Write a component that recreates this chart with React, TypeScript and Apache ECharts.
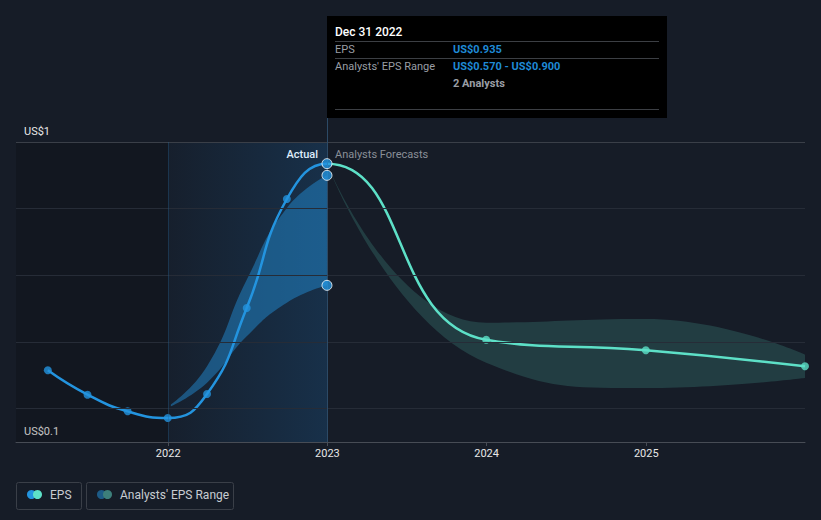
import React, { useEffect, useRef } from 'react';
import * as echarts from 'echarts';

// ---- data ----
const actualDates = ['2021-03-31', '2021-06-30', '2021-09-30', '2021-12-31', '2022-03-31', '2022-06-30', '2022-09-30', '2022-12-31'];
const actualEps = [0.315, 0.242, 0.192, 0.172, 0.244, 0.502, 0.829, 0.935];
const forecastDates = ['2023-12-31', '2024-12-31', '2025-12-31'];
const forecastEps = [0.407, 0.375, 0.327];
const pastRangeDates = ['2022-01-07', '2022-03-31', '2022-06-30', '2022-09-30', '2022-12-31'];
const pastRangeLow = [0.207, 0.278, 0.417, 0.518, 0.57];
const pastRangeHigh = [0.212, 0.327, 0.587, 0.802, 0.9];
const forecastRangeDates = ['2022-12-31', '2023-12-31', '2024-12-31', '2025-12-31'];
const forecastRangeLow = [0.935, 0.338, 0.262, 0.292];
const forecastRangeHigh = [0.935, 0.458, 0.469, 0.362];
const yTickLabels = ['US$0.1', 'US$1'];
const gridValues = [0.2, 0.4, 0.6, 0.8, 1.0];
const xRange = ['2021-01-17', '2025-12-31'];
const pastStart = '2022-01-01';
const lastActual = '2022-12-31';

const tooltipTitle = 'Dec 31 2022';
const tooltipRows = [
  { label: 'EPS', value: 'US$0.935' },
  { label: "Analysts' EPS Range", value: 'US$0.570 - US$0.900' },
];
const tooltipAnalysts = '2 Analysts';

const t = (s: string) => Date.UTC(+s.slice(0, 4), +s.slice(5, 7) - 1, +s.slice(8, 10));

const BLUE = '#2394df';
const TEAL = '#5de0c7';
const BG = '#161c27';
const FONT = 'Roboto, "Noto Sans", sans-serif';
const DAY = 86400000;

export default function App() {
  const ref = useRef<HTMLDivElement>(null);
  useEffect(() => {
    if (!ref.current) return;
    const chart = echarts.init(ref.current, undefined, { renderer: 'svg' });

    const epsData = [
      ...actualDates.map((d, i) => [t(d), actualEps[i]]),
      ...forecastDates.map((d, i) => [t(d), forecastEps[i]]),
    ];
    const xs = epsData.map((p) => p[0]);
    const x0 = Math.min(...xs);
    const x1 = Math.max(...xs);
    const split = (t(lastActual) - x0) / (x1 - x0);
    const epsColor = new echarts.graphic.LinearGradient(0, 0, 1, 0, [
      { offset: 0, color: BLUE },
      { offset: split, color: BLUE },
      { offset: split, color: TEAL },
      { offset: 1, color: TEAL },
    ]);

    const pastLow = pastRangeDates.map((d, i) => [t(d), pastRangeLow[i]]);
    const pastDiff = pastRangeDates.map((d, i) => [t(d), +(pastRangeHigh[i] - pastRangeLow[i]).toFixed(4)]);
    const fcLow = forecastRangeDates.map((d, i) => [t(d), forecastRangeLow[i]]);
    const fcDiff = forecastRangeDates.map((d, i) => [t(d), +(forecastRangeHigh[i] - forecastRangeLow[i]).toFixed(4)]);
    const n = actualDates.length;
    const smallActual = actualDates.slice(0, n - 1).map((d, i) => [t(d), actualEps[i]]);
    const lastIdx = pastRangeDates.length - 1;
    const highlighted = [
      [t(actualDates[n - 1]), actualEps[n - 1]],
      [t(pastRangeDates[lastIdx]), pastRangeHigh[lastIdx]],
      [t(pastRangeDates[lastIdx]), pastRangeLow[lastIdx]],
    ];
    const fcPoints = forecastDates.map((d, i) => [t(d), forecastEps[i]]);

    const txt = (text: string, x: number, y: number, fill: string, size: number, weight: any = 'normal', align = 'left') => ({
      type: 'text',
      x,
      y,
      silent: true,
      style: {
        text, fill, fontSize: size, fontWeight: weight, fontFamily: FONT,
        textAlign: align, align, textVerticalAlign: 'middle', verticalAlign: 'middle',
      },
    });
    const hline = (xa: number, xb: number, y: number, color: string) => ({
      type: 'line', silent: true,
      shape: { x1: xa, y1: y, x2: xb, y2: y },
      style: { stroke: color, lineWidth: 1 },
    });

    const graphic: any[] = [
      { type: 'line', silent: true, shape: { x1: 327.5, y1: 118, x2: 327.5, y2: 142 }, style: { stroke: '#2c4a66', lineWidth: 1 } },
      { type: 'rect', silent: true, shape: { x: 327, y: 16, width: 340, height: 102 }, style: { fill: '#000000' } },
      txt(tooltipTitle, 335, 31.5, '#ffffff', 12, 500),
      hline(335, 659, 41.5, '#3c3f44'),
      txt(tooltipRows[0].label, 335, 49.5, '#9a9ea5', 11),
      txt(tooltipRows[0].value, 453, 49.5, '#1f8ad6', 11, 'bold'),
      hline(335, 659, 58.5, '#3c3f44'),
      txt(tooltipRows[1].label, 335, 66.5, '#9a9ea5', 11),
      txt(tooltipRows[1].value, 453, 66.5, '#1f8ad6', 11, 'bold'),
      txt(tooltipAnalysts, 453, 83, '#9a9ea5', 11, 'bold'),
      hline(335, 659, 109.5, '#3c3f44'),
      txt('Actual', 318, 154.5, '#ffffff', 11, 500, 'right'),
      txt('Analysts Forecasts', 335, 154.5, '#8a8f98', 11, 'normal', 'left'),
      { type: 'rect', silent: true, shape: { x: 16.5, y: 482.5, width: 65, height: 27, r: 2 }, style: { fill: 'transparent', stroke: '#3a3f48', lineWidth: 1 } },
      { type: 'circle', silent: true, shape: { cx: 31.5, cy: 494.5, r: 4.5 }, style: { fill: BLUE } },
      { type: 'circle', silent: true, shape: { cx: 37.5, cy: 494.5, r: 4.5 }, style: { fill: TEAL } },
      txt('EPS', 50, 494.5, '#c8ccd2', 12),
      { type: 'rect', silent: true, shape: { x: 86.5, y: 482.5, width: 147, height: 27, r: 2 }, style: { fill: 'transparent', stroke: '#3a3f48', lineWidth: 1 } },
      { type: 'circle', silent: true, shape: { cx: 101.5, cy: 494.5, r: 4.5 }, style: { fill: '#1d5b87' } },
      { type: 'circle', silent: true, shape: { cx: 107.5, cy: 494.5, r: 4.5 }, style: { fill: '#3d7f7b' } },
      txt("Analysts' EPS Range", 120, 494.5, '#c8ccd2', 12),
    ];

    const option: any = {
      animation: false,
      backgroundColor: BG,
      textStyle: { fontFamily: FONT },
      grid: { left: 16, right: 16, top: 142, bottom: 78, containLabel: false },
      xAxis: {
        type: 'time',
        min: t(xRange[0]),
        max: t(xRange[1]),
        splitNumber: 4,
        minInterval: 365 * DAY,
        maxInterval: 366 * DAY,
        axisLine: { lineStyle: { color: '#474c55', width: 1 } },
        axisTick: { show: true, length: 4, lineStyle: { color: '#474c55' } },
        axisLabel: {
          showMinLabel: false,
          showMaxLabel: false,
          formatter: (v: number) => {
            const d = new Date(v);
            return d.getUTCMonth() === 0 && d.getUTCDate() === 1 ? String(d.getUTCFullYear()) : '';
          },
          color: '#e8e8e8', fontSize: 11, margin: 6, fontFamily: FONT,
        },
        splitLine: { show: false },
      },
      yAxis: {
        type: 'value',
        min: 0.1,
        max: 1,
        interval: 0.9,
        axisLine: { show: false },
        axisTick: { show: false },
        splitLine: { show: false },
        axisLabel: {
          inside: true,
          formatter: (v: number) => (Math.abs(v - 1) < 1e-6 ? yTickLabels[1] : yTickLabels[0]),
          color: '#e8e8e8', fontSize: 11, verticalAlign: 'bottom', margin: 8, padding: [0, 0, 5, 0], fontFamily: FONT,
        },
      },
      graphic,
      series: [
        {
          name: 'pastLow', type: 'line', stack: 'past', smooth: true, symbol: 'none', silent: true,
          lineStyle: { opacity: 0 }, data: pastLow,
          markArea: {
            silent: true,
            data: [
              [{ xAxis: t(xRange[0]), itemStyle: { color: 'rgba(0,0,0,0.16)' } }, { xAxis: t(pastStart) }],
              [
                {
                  xAxis: t(pastStart),
                  itemStyle: {
                    color: new echarts.graphic.LinearGradient(0, 0, 1, 0, [
                      { offset: 0, color: 'rgba(30,140,230,0.03)' },
                      { offset: 1, color: 'rgba(30,140,230,0.18)' },
                    ]),
                  },
                },
                { xAxis: t(lastActual) },
              ],
            ],
          },
          markLine: {
            silent: true, symbol: 'none', label: { show: false },
            data: [
              ...gridValues.map((v) => ({ yAxis: v, lineStyle: { color: v === 1 ? '#3a3f48' : '#262c37', width: 1, type: 'solid' } })),
              { xAxis: t(pastStart), lineStyle: { color: 'rgba(40,100,150,0.35)', width: 1, type: 'solid' } },
              { xAxis: t(lastActual), lineStyle: { color: '#2c4a66', width: 1, type: 'solid' } },
            ],
          },
        },
        {
          name: 'pastDiff', type: 'line', stack: 'past', smooth: true, symbol: 'none', silent: true,
          lineStyle: { opacity: 0 }, areaStyle: { color: 'rgba(35,148,223,0.45)', opacity: 1 }, data: pastDiff,
        },
        {
          name: 'fcLow', type: 'line', stack: 'fc', smooth: true, symbol: 'none', silent: true,
          lineStyle: { opacity: 0 }, data: fcLow,
        },
        {
          name: 'fcDiff', type: 'line', stack: 'fc', smooth: true, symbol: 'none', silent: true,
          lineStyle: { opacity: 0 }, areaStyle: { color: 'rgba(93,224,199,0.17)', opacity: 1 }, data: fcDiff,
        },
        {
          name: 'EPS', type: 'line', smooth: true, symbol: 'none', silent: true,
          lineStyle: { width: 2.5, color: epsColor }, data: epsData, z: 3,
        },
        {
          name: 'actualPts', type: 'scatter', symbolSize: 8, silent: true, z: 4,
          itemStyle: { color: BLUE }, data: smallActual,
        },
        {
          name: 'fcPts', type: 'scatter', symbolSize: 8, silent: true, z: 4,
          itemStyle: { color: TEAL }, data: fcPoints,
        },
        {
          name: 'lastPts', type: 'scatter', symbolSize: 10, silent: true, z: 5,
          itemStyle: { color: BLUE, borderColor: '#ffffff', borderWidth: 1 }, data: highlighted,
        },
      ],
    };
    chart.setOption(option);
    return () => chart.dispose();
  }, []);

  return <div ref={ref} style={{ position: 'fixed', left: 0, top: 0, width: 821, height: 520 }} />;
}
